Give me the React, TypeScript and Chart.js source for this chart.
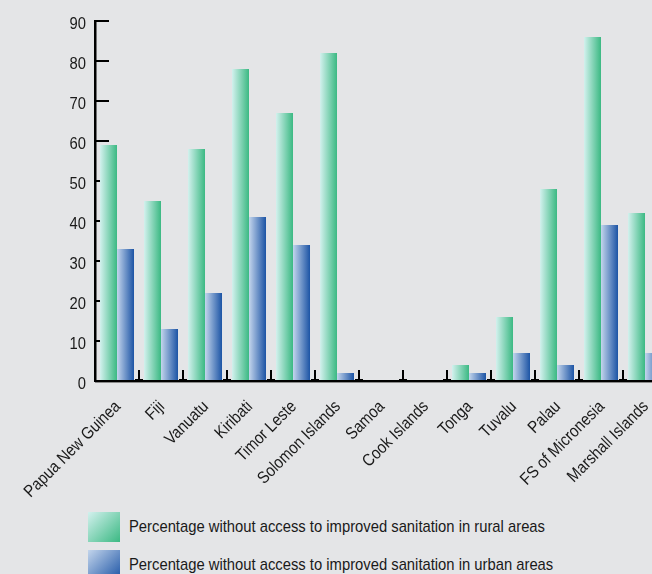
import React, { useEffect, useRef } from "react";
import { Chart, registerables } from "chart.js";

Chart.register(...registerables);

// Pacific countries and the share of population without improved sanitation
const countries = [
  "Papua New Guinea",
  "Fiji",
  "Vanuatu",
  "Kiribati",
  "Timor Leste",
  "Solomon Islands",
  "Samoa",
  "Cook Islands",
  "Tonga",
  "Tuvalu",
  "Palau",
  "FS of Micronesia",
  "Marshall Islands",
];
const ruralValues = [59, 45, 58, 78, 67, 82, 0, 0, 4, 16, 48, 86, 42];
const urbanValues = [33, 13, 22, 41, 34, 2, 0, 0, 2, 7, 4, 39, 7];
const yTicks = [0, 10, 20, 30, 40, 50, 60, 70, 80, 90];
const seriesLabels = [
  "Percentage without access to improved sanitation in rural areas",
  "Percentage without access to improved sanitation in urban areas",
];

const BG = "#e4e5e7";
const FONT = "'Liberation Sans', Arial, Helvetica, sans-serif";
const FONT_SIZE = 17;
const CONDENSE = 0.87; // narrow, Helvetica-Condensed-like lettering
const TEXT = "#1a1a1a";
const CAT_PCT = 0.773;

const GREEN = { light: "#d3f1ee", dark: "#3bb983" };
const BLUE = { light: "#c3d5ec", dark: "#1c54a5" };

// Horizontal light-to-dark gradient across each bar
function barFill(ctx: any, c: { light: string; dark: string }) {
  const chart = ctx.chart;
  const xs = chart.scales?.x;
  if (!chart.chartArea || !xs || ctx.type !== "data") return c.dark;
  const center = xs.getPixelForValue(ctx.dataIndex);
  const catW = xs.width / countries.length;
  const bw = (catW * CAT_PCT) / 2;
  const left = ctx.datasetIndex === 0 ? center - bw : center;
  const g = chart.ctx.createLinearGradient(left, 0, left + bw, 0);
  g.addColorStop(0, c.light);
  g.addColorStop(1, c.dark);
  return g;
}

// Inward tick marks, axis lines and condensed tick labels
const axesPlugin = {
  id: "axesMarks",
  beforeDatasetsDraw(chart: any) {
    const { ctx, chartArea } = chart;
    const xs = chart.scales.x;
    const ys = chart.scales.y;
    ctx.save();
    ctx.strokeStyle = "#000";
    ctx.fillStyle = "#000";
    ctx.lineWidth = 2;
    for (const v of yTicks) {
      const y = Math.round(ys.getPixelForValue(v));
      ctx.beginPath();
      ctx.moveTo(chartArea.left, y);
      ctx.lineTo(chartArea.left + 14, y);
      ctx.stroke();
    }
    const catW = xs.width / countries.length;
    for (let i = 0; i < countries.length; i++) {
      const x = Math.round(xs.getPixelForValue(i) + catW / 2);
      ctx.fillRect(x - 1, chartArea.bottom - 11, 2, 11);
      ctx.fillRect(x - 4, chartArea.bottom - 2, 8, 2);
    }
    ctx.restore();
  },
  afterDatasetsDraw(chart: any) {
    const { ctx, chartArea } = chart;
    ctx.save();
    ctx.fillStyle = "#000";
    ctx.fillRect(chartArea.left - 1, chartArea.top - 1, 2.5, chartArea.bottom - chartArea.top + 1);
    ctx.fillRect(chartArea.left - 1, chartArea.bottom - 1, chartArea.right - chartArea.left + 1, 2);
    ctx.fillStyle = "#8a8a8a";
    ctx.fillRect(chartArea.left, chartArea.bottom + 1, chartArea.right - chartArea.left, 1);
    ctx.restore();
  },
  afterDraw(chart: any) {
    const { ctx, chartArea } = chart;
    const xs = chart.scales.x;
    const ys = chart.scales.y;
    ctx.save();
    ctx.fillStyle = TEXT;
    ctx.font = `${FONT_SIZE}px ${FONT}`;
    // y tick labels
    ctx.textAlign = "right";
    ctx.textBaseline = "middle";
    for (const v of yTicks) {
      const y = ys.getPixelForValue(v);
      ctx.save();
      ctx.translate(chartArea.left - 9, y + 3.5);
      ctx.scale(CONDENSE, 1);
      ctx.fillText(String(v), 0, 0);
      ctx.restore();
    }
    // rotated category labels
    countries.forEach((name, i) => {
      const cx = xs.getPixelForValue(i);
      ctx.save();
      ctx.translate(cx + 1, chartArea.bottom + 23);
      ctx.rotate(-Math.PI / 4);
      ctx.scale(CONDENSE, 1);
      ctx.fillText(name, 0, 0);
      ctx.restore();
    });
    ctx.restore();
  },
};

function LegendBox({ c }: { c: { light: string; dark: string } }) {
  return (
    <div
      style={{
        width: 32,
        height: 30,
        flex: "none",
        background: `linear-gradient(135deg, ${c.light}, ${c.dark})`,
      }}
    />
  );
}

export default function App() {
  const canvasRef = useRef<HTMLCanvasElement>(null);

  useEffect(() => {
    const canvas = canvasRef.current;
    if (!canvas) return;
    const chart = new Chart(canvas, {
      type: "bar",
      data: {
        labels: countries,
        datasets: [
          {
            label: seriesLabels[0],
            data: ruralValues,
            backgroundColor: (ctx: any) => barFill(ctx, GREEN),
            borderWidth: 0,
            categoryPercentage: CAT_PCT,
            barPercentage: 1,
          },
          {
            label: seriesLabels[1],
            data: urbanValues,
            backgroundColor: (ctx: any) => barFill(ctx, BLUE),
            borderWidth: 0,
            categoryPercentage: CAT_PCT,
            barPercentage: 1,
          },
        ],
      },
      options: {
        responsive: false,
        animation: false,
        devicePixelRatio: 1,
        layout: { padding: { top: 21, left: 0, right: 0, bottom: 0 } },
        plugins: {
          legend: { display: false },
          tooltip: { enabled: false },
        },
        scales: {
          x: {
            grid: { display: false, drawTicks: false },
            border: { display: false },
            ticks: { display: false },
            afterFit: (scale: any) => {
              scale.height = 120;
            },
          },
          y: {
            min: 0,
            max: 90,
            grid: { display: false, drawTicks: false },
            border: { display: false },
            ticks: { display: false, stepSize: 10 },
            afterFit: (scale: any) => {
              scale.width = 95;
            },
          },
        },
      },
      plugins: [axesPlugin],
    });
    return () => chart.destroy();
  }, []);

  return (
    <div
      style={{
        position: "fixed",
        left: 0,
        top: 0,
        width: 652,
        height: 574,
        overflow: "hidden",
        background: BG,
      }}
    >
      <canvas
        ref={canvasRef}
        width={667}
        height={501}
        style={{ position: "absolute", left: 0, top: 0 }}
      />
      {seriesLabels.map((label, i) => (
        <div
          key={label}
          style={{
            position: "absolute",
            left: 88,
            top: 512 + i * 38,
            display: "flex",
            alignItems: "center",
            gap: 9,
            fontFamily: FONT,
            fontSize: FONT_SIZE,
            color: TEXT,
            whiteSpace: "nowrap",
          }}
        >
          <LegendBox c={i === 0 ? GREEN : BLUE} />
          <span
            style={{
              display: "inline-block",
              transform: `scaleX(${CONDENSE})`,
              transformOrigin: "left center",
            }}
          >
            {label}
          </span>
        </div>
      ))}
    </div>
  );
}
